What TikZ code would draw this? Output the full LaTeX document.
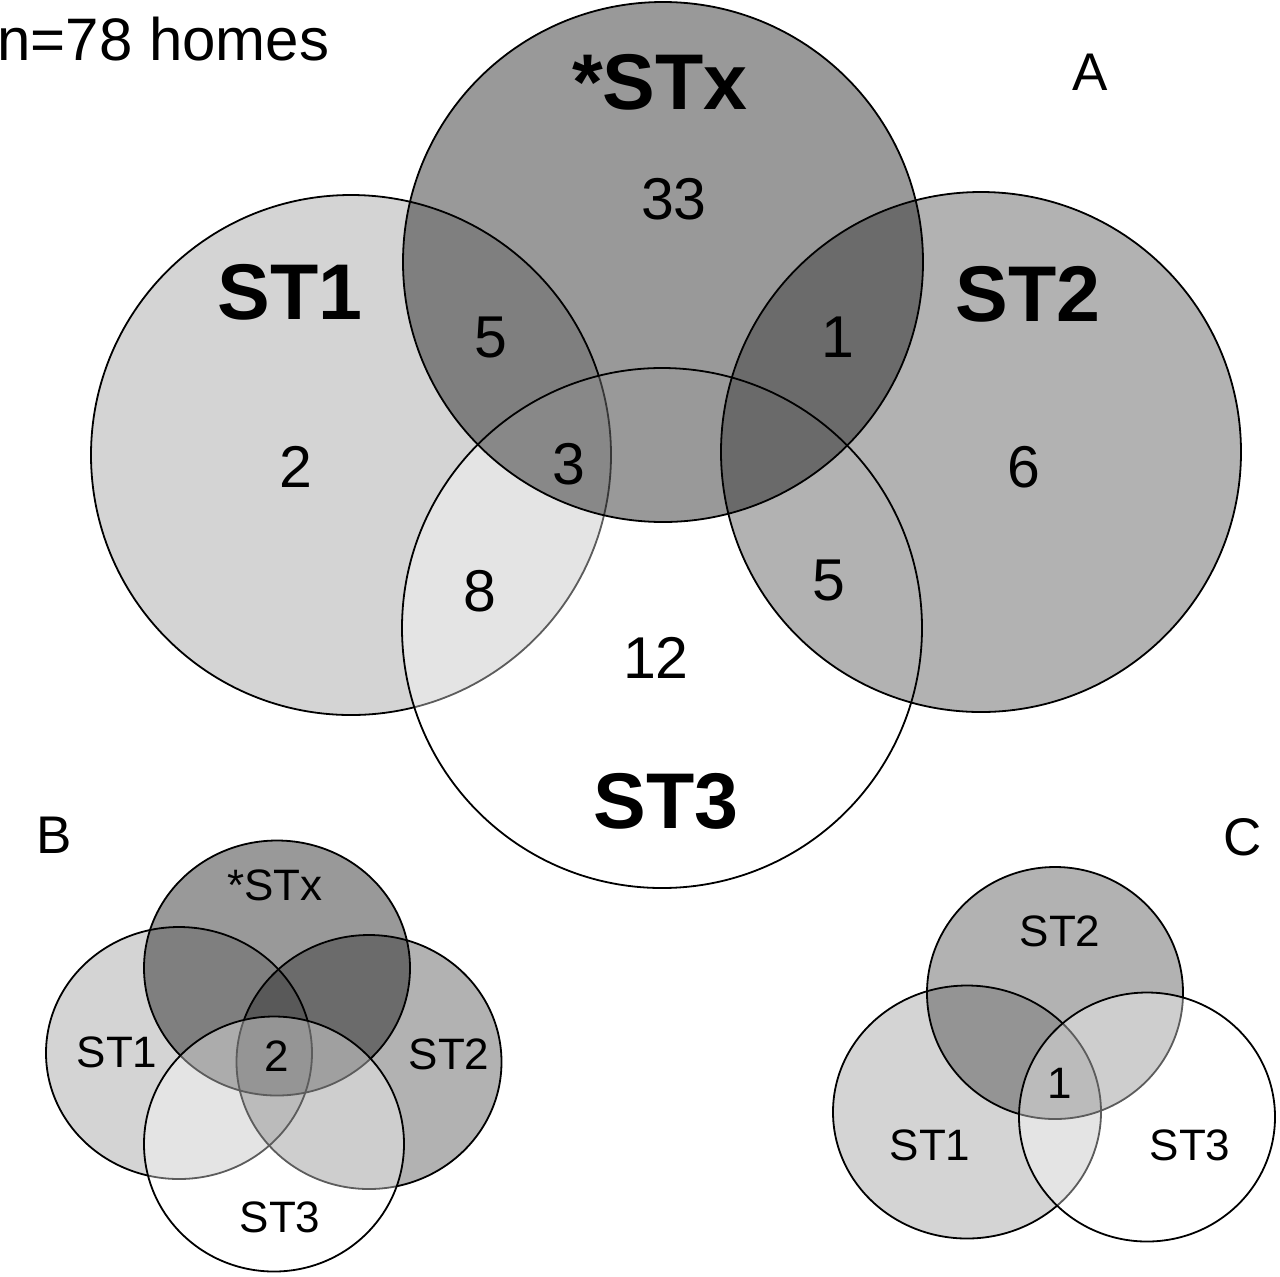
\documentclass[tikz,border=0pt]{standalone}
\usepackage{fontspec}
\setmainfont{Liberation Sans}
\begin{document}
\begin{tikzpicture}[x=0.5pt,y=-0.5pt,
    ring/.style={draw=black,line width=0.9pt},
    setone/.style={ring,fill=black,fill opacity=0.17},
    setx/.style={ring,fill=black,fill opacity=0.4},
    settwo/.style={ring,fill=black,fill opacity=0.3},
    setthree/.style={ring,fill=white,fill opacity=0.36},
    bigname/.style={anchor=base,font=\fontsize{39.5}{39.5}\selectfont\bfseries},
    count/.style={anchor=base,font=\fontsize{29.5}{29.5}\selectfont},
    smallname/.style={anchor=base,font=\fontsize{22}{22}\selectfont},
    panel/.style={anchor=base,font=\fontsize{26.5}{26.5}\selectfont}]
    \useasboundingbox (0,0) rectangle (1280,1276);
    \draw[setone] (351,455) circle (260);
    \draw[setthree] (662,628) circle (260);
    \draw[setx] (663,262) circle (260);
    \draw[settwo] (981,452) circle (260);
    \node[anchor=base west,inner sep=0pt,font=\fontsize{30}{30}\selectfont] (homes) at (-3,60) {n=78 homes};
    \node[panel] (pa) at (1090,90) {A};
    \node[bigname] (ax) at (660,109) {*STx};
    \node[bigname] (a1) at (290,319) {ST1};
    \node[bigname] (a2) at (1028,321) {ST2};
    \node[bigname] (a3) at (666,828) {ST3};
    \node[count] (ax0) at (674,219) {33};
    \node[count] (a1x) at (491,357) {5};
    \node[count] (a2x) at (838,357) {1};
    \node[count] (a10) at (296,487) {2};
    \node[count] (a13x) at (569,484) {3};
    \node[count] (a20) at (1024,487) {6};
    \node[count] (a13) at (480,611) {8};
    \node[count] (a23) at (829,600) {5};
    \node[count] (a30) at (656,678) {12};
    \draw[setone] (179,1053) ellipse [x radius=133,y radius=126];
    \draw[setx] (277,968) ellipse [x radius=133,y radius=127.5];
    \draw[settwo] (369,1062) ellipse [x radius=132.5,y radius=127];
    \draw[setthree] (274,1144) ellipse [x radius=130,y radius=127.5];
    \node[panel] (pb) at (54,853) {B};
    \node[smallname] (bx) at (275,900) {*STx};
    \node[smallname] (b1) at (117,1067) {ST1};
    \node[smallname] (b2) at (449,1069) {ST2};
    \node[smallname] (b3) at (280,1232) {ST3};
    \node[smallname] (ball) at (277,1071) {2};
    \draw[setone] (967,1112) ellipse [x radius=134,y radius=126.5];
    \draw[settwo] (1055,993) ellipse [x radius=128,y radius=126];
    \draw[setthree] (1147,1117) ellipse [x radius=128,y radius=124.5];
    \node[panel] (pc) at (1243,855) {C};
    \node[smallname] (c2) at (1060,946) {ST2};
    \node[smallname] (c1) at (930,1160) {ST1};
    \node[smallname] (c3) at (1190,1160) {ST3};
    \node[smallname] (call) at (1060,1098) {1};
\end{tikzpicture}
\end{document}
